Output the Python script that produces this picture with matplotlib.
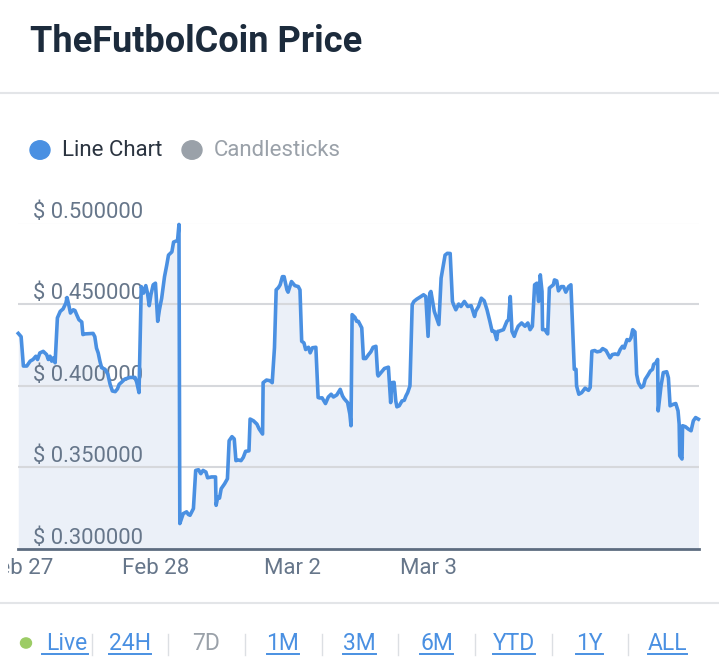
import matplotlib.pyplot as plt
from matplotlib.lines import Line2D
from matplotlib.patches import Circle
from matplotlib.transforms import Bbox

plt.rcParams['font.family'] = ['Roboto', 'DejaVu Sans']

# hours since Feb 27 00:00 and price in USD
hours = [-0.3, 0.2, 0.6, 1.2, 1.8, 2.3, 2.8, 3.1, 3.5, 4.1, 4.7, 5.0, 5.3, 5.6, 5.9, 6.2,
         6.6, 7.1, 7.6, 8.1, 8.3, 8.6, 8.9, 9.4, 9.7, 10.0, 10.4, 10.9, 11.1, 11.5, 12.9,
         13.2, 13.5, 13.8, 14.1, 14.4, 15.0, 15.5, 15.9, 16.3, 16.8, 17.2, 17.5, 17.9,
         18.5, 19.4, 20.3, 20.6, 21.0, 21.4, 21.8, 22.2, 22.5, 22.8, 23.1, 23.5, 23.9,
         24.3, 24.6, 25.0, 25.5, 25.9, 26.2, 26.8, 27.1, 27.8, 28.05, 28.2, 28.8, 29.4,
         29.7, 30.0, 30.6, 31.0, 31.5, 31.9, 32.3, 32.8, 33.1, 33.8, 34.5, 34.6, 34.9,
         35.2, 35.5, 36.1, 36.6, 36.9, 37.4, 37.8, 38.1, 38.5, 39.0, 39.4, 39.8, 40.4,
         40.6, 41.2, 41.8, 42.2, 42.8, 42.9, 43.5, 44.1, 44.5, 44.9, 45.2, 45.6, 45.9,
         46.3, 46.6, 47.1, 47.3, 47.9, 48.5, 49.1, 49.4, 49.7, 50.1, 50.4, 50.9, 51.2,
         51.6, 52.2, 52.6, 52.9, 53.3, 53.9, 54.4, 54.9, 55.3, 55.9, 56.5, 56.9, 57.2,
         57.8, 58.2, 58.4, 58.6, 59.1, 59.4, 59.7, 60.3, 60.6, 61.0, 61.5, 61.9, 62.3,
         62.8, 63.1, 63.2, 63.7, 64.3, 65.0, 65.4, 65.6, 66.0, 66.3, 66.5, 66.9, 67.4,
         67.8, 68.1, 68.4, 68.8, 69.2, 69.5, 70.0, 70.6, 71.2, 71.6, 72.0, 72.3, 72.5,
         72.8, 73.1, 73.5, 73.9, 74.3, 74.5, 75.0, 75.4, 75.9, 76.3, 76.5, 76.9, 77.4,
         77.8, 78.4, 79.0, 79.6, 80.2, 80.4, 80.9, 81.4, 81.9, 82.4, 82.9, 83.3, 83.7,
         84.1, 84.3, 84.5, 85.3, 85.9, 86.2, 86.5, 86.8, 87.2, 87.5, 87.9, 88.5, 89.1,
         89.6, 90.0, 90.4, 90.8, 91.2, 91.5, 91.8, 92.1, 92.2, 92.6, 93.1, 93.4, 93.7,
         94.1, 94.3, 94.7, 95.0, 95.5, 95.9, 96.3, 96.8, 97.2, 97.6, 97.8, 98.1, 98.2,
         98.6, 99.1, 99.7, 100.3, 100.6, 100.9, 101.4, 101.8, 102.4, 102.8, 103.4, 103.8,
         104.1, 104.5, 105.0, 105.5, 105.9, 106.3, 106.6, 107.1, 107.5, 107.8, 108.1,
         108.5, 108.8, 109.1, 109.6, 110.0, 110.3, 110.8, 111.2, 111.6, 111.8, 112.2,
         112.5, 112.6, 113.1, 113.5, 114.1, 114.4, 114.7, 115.3, 115.7, 116.1, 116.3,
         116.4, 116.8, 116.9, 117.4, 117.9, 118.4, 118.8, 119.2, 119.7]
prices = [0.432, 0.430, 0.412, 0.412, 0.415, 0.416, 0.418, 0.416, 0.420, 0.421, 0.419, 0.416,
          0.418, 0.415, 0.417, 0.414, 0.4415, 0.4455, 0.447, 0.4506, 0.454, 0.4496, 0.4445,
          0.4465, 0.446, 0.4435, 0.4404, 0.439, 0.4313, 0.4317, 0.432, 0.430, 0.423, 0.420,
          0.415, 0.411, 0.410, 0.407, 0.4008, 0.3967, 0.3963, 0.398, 0.4008, 0.402, 0.404,
          0.405, 0.405, 0.402, 0.3957, 0.4607, 0.4567, 0.4613, 0.4567, 0.449, 0.4557,
          0.4618, 0.4628, 0.4394, 0.4465, 0.4536, 0.4668, 0.474, 0.480, 0.482, 0.488, 0.489,
          0.4988, 0.3154, 0.3215, 0.3226, 0.321, 0.3205, 0.3246, 0.348, 0.3484, 0.346, 0.348,
          0.347, 0.3435, 0.344, 0.344, 0.3266, 0.3317, 0.331, 0.3368, 0.3398, 0.3429, 0.3662,
          0.3687, 0.3673, 0.354, 0.3544, 0.354, 0.356, 0.3597, 0.360, 0.3795, 0.3784, 0.3764,
          0.3734, 0.3703, 0.4018, 0.4034, 0.403, 0.4018, 0.4232, 0.4587, 0.4601, 0.4618,
          0.4668, 0.4668, 0.4587, 0.4573, 0.4638, 0.4613, 0.4607, 0.4587, 0.4272, 0.4262,
          0.4221, 0.4235, 0.4201, 0.4232, 0.4235, 0.3927, 0.3924, 0.3925, 0.389, 0.393,
          0.3947, 0.393, 0.3943, 0.3977, 0.3937, 0.392, 0.3896, 0.3825, 0.3754, 0.4435,
          0.4418, 0.4394, 0.4394, 0.4354, 0.4166, 0.4166, 0.419, 0.4207, 0.4235, 0.4241,
          0.4069, 0.4059, 0.408, 0.4105, 0.4113, 0.3896, 0.4018, 0.402, 0.3906, 0.387, 0.3876,
          0.3906, 0.391, 0.3937, 0.3957, 0.3998, 0.4496, 0.4516, 0.453, 0.4543, 0.4557,
          0.4546, 0.4302, 0.4567, 0.4577, 0.4516, 0.4455, 0.4415, 0.4374, 0.4659, 0.4699,
          0.480, 0.4811, 0.481, 0.4516, 0.4496, 0.4465, 0.450, 0.4485, 0.4516, 0.4485, 0.449,
          0.4424, 0.4455, 0.4485, 0.4536, 0.452, 0.4465, 0.4394, 0.4333, 0.4333, 0.4282,
          0.4333, 0.4333, 0.4343, 0.4394, 0.4404, 0.4546, 0.4333, 0.4302, 0.4333, 0.4364,
          0.4384, 0.4364, 0.4384, 0.4343, 0.4364, 0.4618, 0.4628, 0.4516, 0.4679, 0.4577,
          0.4343, 0.4343, 0.4317, 0.4598, 0.4607, 0.4618, 0.4648, 0.4642, 0.4581, 0.4607,
          0.4607, 0.4573, 0.4607, 0.4618, 0.4272, 0.410, 0.410, 0.3998, 0.3947, 0.3957,
          0.3984, 0.3971, 0.3988, 0.4211, 0.4215, 0.4207, 0.4211, 0.4227, 0.4215, 0.419,
          0.417, 0.419, 0.4194, 0.419, 0.4221, 0.4241, 0.423, 0.4282, 0.4276, 0.4293, 0.4343,
          0.4329, 0.4069, 0.4018, 0.3988, 0.3998, 0.4038, 0.4065, 0.4089, 0.410, 0.413,
          0.414, 0.416, 0.3845, 0.3998, 0.408, 0.4085, 0.4048, 0.3876, 0.3886, 0.389, 0.3845,
          0.3764, 0.357, 0.355, 0.3754, 0.3748, 0.3734, 0.3723, 0.3784, 0.3804, 0.3794]

y_ticks = [0.30, 0.35, 0.40, 0.45, 0.50]
x_tick_hours = [0, 24, 48, 72]
x_tick_labels = ['Feb 27', 'Feb 28', 'Mar 2', 'Mar 3']
ranges = ['Live', '24H', '7D', '1M', '3M', '6M', 'YTD', '1Y', 'ALL']

W, H = 719, 665
fig = plt.figure(figsize=(W / 100, H / 100), dpi=100)
fig.patch.set_facecolor('white')

def fx(px):
    return px / W

def fy(py):
    return 1 - py / H

# header
fig.text(fx(30), fy(42), 'TheFutbolCoin Price', fontsize=26, fontweight='bold',
         color='#1c2b3c', va='center', ha='left')
fig.add_artist(Line2D([0, 1], [fy(93), fy(93)], color='#e3e5e8', lw=1.5))
fig.add_artist(Line2D([0, 1], [fy(603), fy(603)], color='#e3e5e8', lw=1.5))

# legend
fig.add_artist(Circle((fx(40), fy(150)), 10 / W, transform=fig.transFigure,
                      color='#4a90e2'))
fig.text(fx(62), fy(150), 'Line Chart', fontsize=16, color='#2b3440', va='center')
fig.add_artist(Circle((fx(192), fy(150)), 10 / W, transform=fig.transFigure,
                      color='#9aa1a9'))
fig.text(fx(214), fy(150), 'Candlesticks', fontsize=16, color='#9aa1a9', va='center')

# price chart
ax = fig.add_axes([fx(18), fy(548.7), fx(699) - fx(18), fy(222.5) - fy(548.7)])
ax.fill_between(hours, prices, 0.3, color='#ebf0f8', lw=0, zorder=1)
ax.plot(hours, prices, color='#4a90e2', lw=2.6, zorder=4, clip_on=False,
        solid_joinstyle='round')
ax.set_xlim(-0.35, 119.8)
ax.set_ylim(0.3, 0.5)
for v in y_ticks[1:]:
    ax.axhline(v, color='#d6d8dc', lw=1.5, zorder=2)
ax.axhline(0.3, color='#5d6c80', lw=2, zorder=5, clip_on=False)
for v in y_ticks:
    ax.text(0.022, v + 0.003, '$ %.6f' % v, transform=ax.get_yaxis_transform(),
            fontsize=15.8, color='#66768a', va='baseline', ha='left', zorder=3)
ax.set_yticks([])
ax.set_xticks(x_tick_hours)
ax.set_xticklabels(x_tick_labels, fontsize=16, color='#66768a')
ax.tick_params(axis='x', length=0, pad=7)
for s in ax.spines.values():
    s.set_visible(False)
ax.set_facecolor('none')

# first date label is cut by the page padding
first = ax.get_xticklabels()[0]
first.set_clip_on(True)
first.set_clip_box(Bbox([[7.8, 0], [W, H]]))

# range selector
fig.add_artist(Circle((fx(26), fy(643)), 5.5 / W, transform=fig.transFigure,
                      color='#9ccc65'))
label_x = [67, 130, 206, 283, 359.5, 436.5, 514, 589.5, 667.5]
sep_x = [92, 168, 245, 322, 398, 475, 552, 628]
renderer = fig.canvas.get_renderer()
for name, x in zip(ranges, label_x):
    active = name != '7D'
    t = fig.text(fx(x), fy(643.5), name, fontsize=16.5, ha='center', va='center',
                 color='#4a90e2' if active else '#9aa1a9')
    if active:
        bb = t.get_window_extent(renderer)
        x0 = bb.x0 / W
        x1 = bb.x1 / W
        if name == 'Live':
            x0 = fx(42)
        fig.add_artist(Line2D([x0, x1], [fy(654), fy(654)], color='#4a90e2', lw=1.4))
for x in sep_x:
    fig.add_artist(Line2D([fx(x), fx(x)], [fy(634), fy(655)], color='#dcdfe3', lw=1))

fig.savefig('out.png', dpi=100)
